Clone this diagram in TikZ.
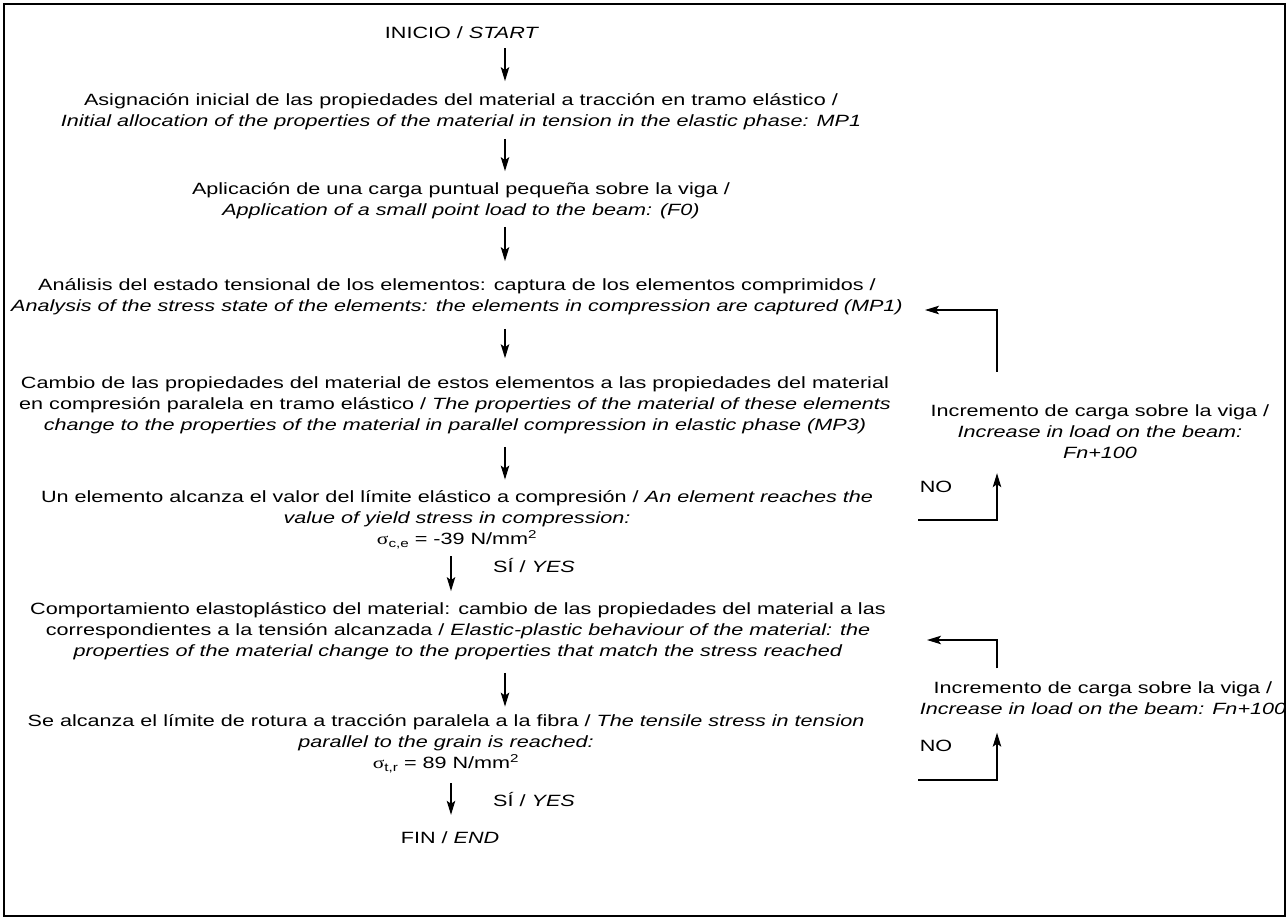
\documentclass[tikz,border=0pt]{standalone}
\usepackage{fontspec}
\setmainfont{Liberation Sans}[FakeStretch=1.325]
\newfontfamily\serifgreek{Liberation Serif}[FakeStretch=1.325]
\usetikzlibrary{arrows.meta}
\newcommand{\sig}[1]{{\serifgreek σ}\raisebox{-0.35ex}{\fontsize{11.5}{11.5}\selectfont #1}}
\begin{document}
\begin{tikzpicture}[x=1pt,y=-1pt,
  every node/.style={font=\fontsize{16.3}{21}\selectfont, align=center, inner sep=0pt},
  arr/.style={line width=1.2pt, -{Stealth[length=14pt,width=8.5pt,inset=3pt]}},
  ln/.style={line width=1.2pt}]
\useasboundingbox (0,0) rectangle (1288,919);
\draw[line width=2pt] (4,4) rectangle (1285,916);
\coordinate (ax) at (505,0);
\coordinate (bx) at (451,0);
\coordinate (vx) at (997,0);
% main column
\node (start) at (462,33) {INICIO / \textit{START}};
\node (n1) at (461,111.5) {Asignación inicial de las propiedades del material a tracción en tramo elástico /\\
\textit{Initial allocation of the properties of the material in tension in the elastic phase: MP1}};
\node (n2) at (461,200.5) {Aplicación de una carga puntual pequeña sobre la viga /\\
\textit{Application of a small point load to the beam: (F0)}};
\node (n3) at (457,296.5) {Análisis del estado tensional de los elementos: captura de los elementos comprimidos /\\
\textit{Analysis of the stress state of the elements: the elements in compression are captured (MP1)}};
\node (n4) at (455,405) {Cambio de las propiedades del material de estos elementos a las propiedades del material\\
en compresión paralela en tramo elástico / \textit{The properties of the material of these elements}\\
\textit{change to the properties of the material in parallel compression in elastic phase (MP3)}};
\node (n5) at (457,520) {Un elemento alcanza el valor del límite elástico a compresión / \textit{An element reaches the}\\
\textit{value of yield stress in compression:}\\
\sig{c,e} = -39 N/mm\textsuperscript{2}};
\node (n6) at (458,631) {Comportamiento elastoplástico del material: cambio de las propiedades del material a las\\
correspondientes a la tensión alcanzada / \textit{Elastic-plastic behaviour of the material: the}\\
\textit{properties of the material change to the properties that match the stress reached}};
\node (n7) at (446,744) {Se alcanza el límite de rotura a tracción paralela a la fibra / \textit{The tensile stress in tension}\\
\textit{parallel to the grain is reached:}\\
\sig{t,r} = 89 N/mm\textsuperscript{2}};
\node (fin) at (450,838) {FIN / \textit{END}};
\node (yes1) at (534,566) {SÍ / \textit{YES}};
\node (yes2) at (534,800) {SÍ / \textit{YES}};
% right side
\node (r1) at (1100,432) {Incremento de carga sobre la viga /\\\textit{Increase in load on the beam:}\\\textit{Fn+100}};
\node (r2) at (1103,698) {Incremento de carga sobre la viga /\\\textit{Increase in load on the beam: Fn+100}};
\node (no1) at (936,487) {NO};
\node (no2) at (936,746) {NO};
% main arrows
\draw[arr] ([yshift=-9pt]start.south -| ax) -- ([yshift=12pt]n1.north -| ax);
\draw[arr] ([yshift=-9pt]n1.south -| ax) -- ([yshift=11pt]n2.north -| ax);
\draw[arr] ([yshift=-8pt]n2.south -| ax) -- ([yshift=17pt]n3.north -| ax);
\draw[arr] ([yshift=-14pt]n3.south -| ax) -- ([yshift=18pt]n4.north -| ax);
\draw[arr] ([yshift=-13pt]n4.south -| ax) -- ([yshift=11pt]n5.north -| ax);
\draw[arr] ([yshift=-7pt]n5.south -| bx) -- ([yshift=11pt]n6.north -| bx);
\draw[arr] ([yshift=-13pt]n6.south -| ax) -- ([yshift=8pt]n7.north -| ax);
\draw[arr] ([yshift=-10pt]n7.south -| bx) -- ([yshift=17pt]fin.north -| bx);
% loops
\coordinate (l1s) at (918,520);
\coordinate (l1e) at (925,310);
\coordinate (l2s) at (918,780);
\coordinate (l2e) at (927,640);
\draw[arr] (l1s) -| ([yshift=-14pt]r1.south -| vx);
\draw[arr] ([yshift=33pt]r1.north -| vx) |- (l1e);
\draw[arr] (l2s) -| ([yshift=-18pt]r2.south -| vx);
\draw[arr] ([yshift=13pt]r2.north -| vx) |- (l2e);
\end{tikzpicture}
\end{document}
